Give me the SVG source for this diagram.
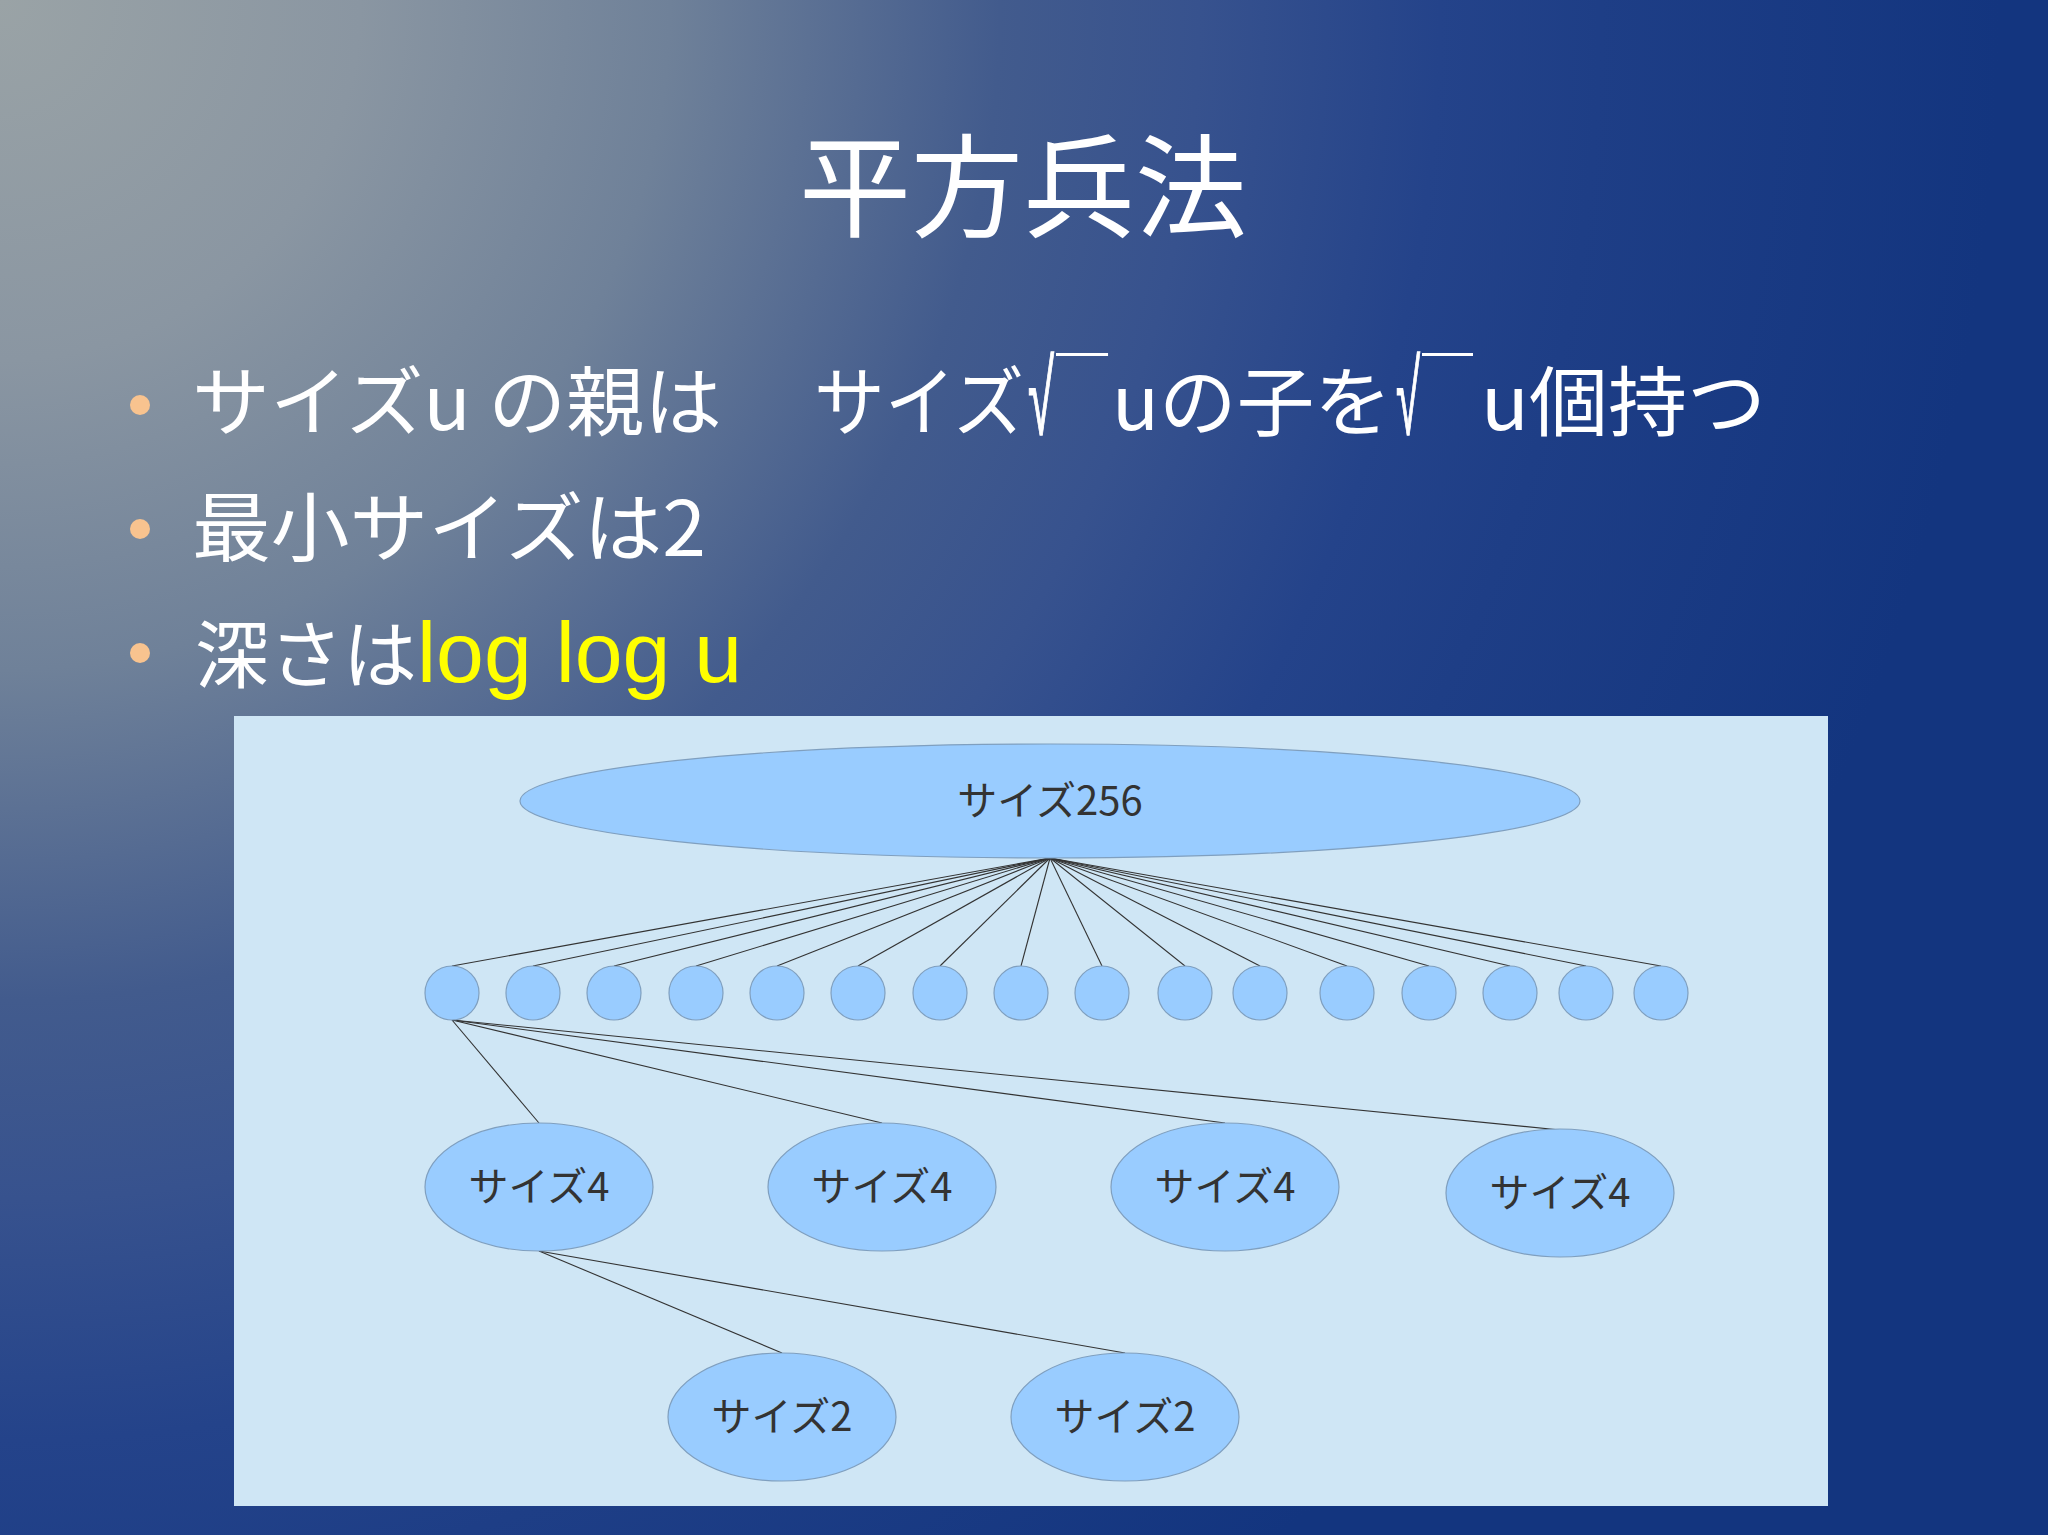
<svg xmlns="http://www.w3.org/2000/svg" width="2048" height="1535" viewBox="0 0 2048 1535">
<defs>
<radialGradient id="bg" gradientUnits="userSpaceOnUse" cx="0" cy="0" r="2000">
<stop offset="0" stop-color="#9aa3a6"/>
<stop offset="0.18" stop-color="#8a96a2"/>
<stop offset="0.335" stop-color="#6f8199"/>
<stop offset="0.5" stop-color="#425b8d"/>
<stop offset="0.6" stop-color="#37528e"/>
<stop offset="0.72" stop-color="#24438a"/>
<stop offset="0.8" stop-color="#1e3e86"/>
<stop offset="1" stop-color="#13357f"/>
</radialGradient>
<style>
.jp{font-family:"Noto Sans CJK JP","Noto Sans",sans-serif;}
.lat{font-family:"Liberation Sans","DejaVu Sans",sans-serif;}
.title{font-size:112px;fill:#ffffff;}
.bl{font-size:76px;fill:#ffffff;}
.bl3{font-size:74px;fill:#ffffff;}
.sq{font-size:104px;fill:#ffffff;stroke:#ffffff;stroke-width:1.5;}
.yl{fill:#ffff00;font-family:"Liberation Sans","Noto Sans CJK JP",sans-serif;font-size:86px;}
.dot{fill:#f8c38f;}
.nd{fill:#99ccff;stroke:#7f9fbf;stroke-width:1.2;}
.lb{font-size:40px;fill:#333333;text-anchor:middle;}
.cn line{stroke:#333333;stroke-width:1.1;}
</style>
</defs>
<rect x="0" y="0" width="2048" height="1535" fill="url(#bg)"/>
<text class="jp title" x="1023" y="229" text-anchor="middle">平方兵法</text>
<g id="bullet1">
<circle class="dot" cx="140" cy="405" r="10"/>
<text class="jp bl" x="192" y="430" textLength="530" lengthAdjust="spacingAndGlyphs">サイズu の親は</text>
<text class="jp bl" x="814" y="430" textLength="210" lengthAdjust="spacingAndGlyphs">サイズ</text>
<text class="lat sq" x="1028" y="434" textLength="26" lengthAdjust="spacingAndGlyphs">√</text>
<text class="jp bl" x="1056" y="420" textLength="52" lengthAdjust="spacingAndGlyphs">￣</text>
<text class="jp bl" x="1112" y="430" textLength="280" lengthAdjust="spacingAndGlyphs">uの子を</text>
<text class="lat sq" x="1396" y="434" textLength="24" lengthAdjust="spacingAndGlyphs">√</text>
<text class="jp bl" x="1422" y="420" textLength="51" lengthAdjust="spacingAndGlyphs">￣</text>
<text class="jp bl" x="1481" y="430" textLength="285" lengthAdjust="spacingAndGlyphs">u個持つ</text>
</g>
<g id="bullet2">
<circle class="dot" cx="140" cy="529" r="10"/>
<text class="jp bl" x="192" y="556" textLength="514" lengthAdjust="spacingAndGlyphs">最小サイズは2</text>
</g>
<g id="bullet3">
<circle class="dot" cx="140" cy="653" r="10"/>
<text class="jp bl3" x="195" y="682">深さは<tspan class="yl">log log u</tspan></text>
</g>
<rect x="234" y="716" width="1594" height="790" fill="#cfe6f5"/>
<g class="cn">
<line x1="1050" y1="858" x2="452" y2="966"/>
<line x1="1050" y1="858" x2="533" y2="966"/>
<line x1="1050" y1="858" x2="614" y2="966"/>
<line x1="1050" y1="858" x2="696" y2="966"/>
<line x1="1050" y1="858" x2="777" y2="966"/>
<line x1="1050" y1="858" x2="858" y2="966"/>
<line x1="1050" y1="858" x2="940" y2="966"/>
<line x1="1050" y1="858" x2="1021" y2="966"/>
<line x1="1050" y1="858" x2="1102" y2="966"/>
<line x1="1050" y1="858" x2="1185" y2="966"/>
<line x1="1050" y1="858" x2="1260" y2="966"/>
<line x1="1050" y1="858" x2="1347" y2="966"/>
<line x1="1050" y1="858" x2="1429" y2="966"/>
<line x1="1050" y1="858" x2="1510" y2="966"/>
<line x1="1050" y1="858" x2="1586" y2="966"/>
<line x1="1050" y1="858" x2="1661" y2="966"/>
<line x1="452" y1="1020" x2="539" y2="1123"/>
<line x1="452" y1="1020" x2="882" y2="1123"/>
<line x1="452" y1="1020" x2="1225" y2="1123"/>
<line x1="452" y1="1020" x2="1560" y2="1130"/>
<line x1="539" y1="1251" x2="782" y2="1353"/>
<line x1="539" y1="1251" x2="1125" y2="1353"/>
</g>
<g id="n256"><ellipse class="nd" cx="1050" cy="801" rx="530" ry="57"/><text class="jp lb" x="1050" y="815">サイズ256</text></g>
<g id="c1"><ellipse class="nd" cx="452" cy="993" rx="27" ry="27"/></g>
<g id="c2"><ellipse class="nd" cx="533" cy="993" rx="27" ry="27"/></g>
<g id="c3"><ellipse class="nd" cx="614" cy="993" rx="27" ry="27"/></g>
<g id="c4"><ellipse class="nd" cx="696" cy="993" rx="27" ry="27"/></g>
<g id="c5"><ellipse class="nd" cx="777" cy="993" rx="27" ry="27"/></g>
<g id="c6"><ellipse class="nd" cx="858" cy="993" rx="27" ry="27"/></g>
<g id="c7"><ellipse class="nd" cx="940" cy="993" rx="27" ry="27"/></g>
<g id="c8"><ellipse class="nd" cx="1021" cy="993" rx="27" ry="27"/></g>
<g id="c9"><ellipse class="nd" cx="1102" cy="993" rx="27" ry="27"/></g>
<g id="c10"><ellipse class="nd" cx="1185" cy="993" rx="27" ry="27"/></g>
<g id="c11"><ellipse class="nd" cx="1260" cy="993" rx="27" ry="27"/></g>
<g id="c12"><ellipse class="nd" cx="1347" cy="993" rx="27" ry="27"/></g>
<g id="c13"><ellipse class="nd" cx="1429" cy="993" rx="27" ry="27"/></g>
<g id="c14"><ellipse class="nd" cx="1510" cy="993" rx="27" ry="27"/></g>
<g id="c15"><ellipse class="nd" cx="1586" cy="993" rx="27" ry="27"/></g>
<g id="c16"><ellipse class="nd" cx="1661" cy="993" rx="27" ry="27"/></g>
<g id="s4a"><ellipse class="nd" cx="539" cy="1187" rx="114" ry="64"/><text class="jp lb" x="539" y="1201">サイズ4</text></g>
<g id="s4b"><ellipse class="nd" cx="882" cy="1187" rx="114" ry="64"/><text class="jp lb" x="882" y="1201">サイズ4</text></g>
<g id="s4c"><ellipse class="nd" cx="1225" cy="1187" rx="114" ry="64"/><text class="jp lb" x="1225" y="1201">サイズ4</text></g>
<g id="s4d"><ellipse class="nd" cx="1560" cy="1193" rx="114" ry="64"/><text class="jp lb" x="1560" y="1207">サイズ4</text></g>
<g id="s2a"><ellipse class="nd" cx="782" cy="1417" rx="114" ry="64"/><text class="jp lb" x="782" y="1431">サイズ2</text></g>
<g id="s2b"><ellipse class="nd" cx="1125" cy="1417" rx="114" ry="64"/><text class="jp lb" x="1125" y="1431">サイズ2</text></g>
</svg>
